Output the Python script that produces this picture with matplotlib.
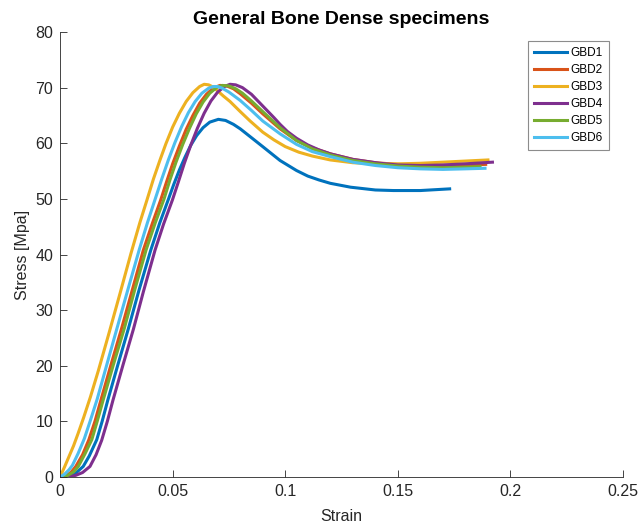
import matplotlib.pyplot as plt

plt.rcParams['font.family'] = ['Liberation Sans', 'DejaVu Sans']

# strain / stress
gbd1_strain = [0, 0.004, 0.007, 0.0103, 0.013, 0.0163, 0.0187, 0.0212, 0.0257, 0.0303, 0.035, 0.0403, 0.0443,
               0.0481, 0.0505, 0.053, 0.0555, 0.058, 0.0607, 0.0635, 0.0665, 0.0703, 0.0735, 0.077, 0.080, 0.085,
               0.0903, 0.0977, 0.105, 0.110, 0.115, 0.120, 0.129, 0.140, 0.148, 0.160, 0.173]
gbd1_stress = [0, 0.2, 0.7, 1.9, 3.8, 6.7, 10.0, 13.8, 20.2, 26.6, 33.5, 40.8, 45.7,
               49.9, 52.6, 55.2, 57.5, 59.6, 61.4, 62.8, 63.8, 64.3, 64.1, 63.4, 62.6, 61.0,
               59.3, 56.9, 55.1, 54.1, 53.4, 52.8, 52.1, 51.6, 51.5, 51.5, 51.8]

gbd2_strain = [0, 0.003, 0.005, 0.007, 0.010, 0.0128, 0.0155, 0.0182, 0.0225, 0.0274, 0.032, 0.037, 0.041,
               0.0447, 0.0475, 0.050, 0.053, 0.056, 0.059, 0.062, 0.065, 0.068, 0.071, 0.074, 0.077, 0.080,
               0.085, 0.090, 0.0977, 0.105, 0.112, 0.120, 0.130, 0.140, 0.150, 0.160, 0.170, 0.180, 0.189]
gbd2_stress = [0, 0.3, 0.9, 1.9, 4.0, 6.7, 10.0, 13.9, 20.0, 26.8, 33.5, 40.8, 45.6,
               49.8, 53.3, 56.3, 59.5, 62.5, 65.0, 67.2, 68.8, 69.9, 70.4, 70.3, 69.8, 68.9,
               67.2, 65.3, 62.6, 60.5, 59.2, 58.1, 57.1, 56.5, 56.2, 56.0, 56.0, 56.1, 56.2]

gbd3_strain = [0, 0.002, 0.004, 0.006, 0.008, 0.0105, 0.0135, 0.017, 0.0217, 0.0265, 0.0315, 0.0355, 0.0386,
               0.0415, 0.0444, 0.047, 0.050, 0.053, 0.056, 0.059, 0.062, 0.064, 0.066, 0.068, 0.070, 0.0725,
               0.0755, 0.080, 0.0844, 0.090, 0.095, 0.100, 0.106, 0.112, 0.120, 0.130, 0.140, 0.150, 0.160,
               0.170, 0.180, 0.190]
gbd3_stress = [0, 1.8, 3.7, 5.6, 7.8, 10.7, 14.4, 19.1, 25.8, 32.8, 40.2, 45.8, 49.8,
               53.6, 57.0, 59.9, 62.9, 65.4, 67.5, 69.1, 70.2, 70.6, 70.5, 70.1, 69.4, 68.5,
               67.5, 65.7, 64.0, 62.0, 60.6, 59.4, 58.4, 57.7, 57.0, 56.5, 56.3, 56.3, 56.4,
               56.6, 56.8, 57.0]

gbd4_strain = [0, 0.004, 0.007, 0.010, 0.0133, 0.016, 0.0185, 0.021, 0.0235, 0.028, 0.0326, 0.037, 0.0422,
               0.046, 0.0499, 0.0525, 0.0552, 0.058, 0.061, 0.064, 0.067, 0.070, 0.073, 0.0755, 0.078, 0.081,
               0.085, 0.090, 0.095, 0.0977, 0.101, 0.105, 0.110, 0.115, 0.120, 0.130, 0.142, 0.150, 0.160,
               0.170, 0.180, 0.192]
gbd4_stress = [0, 0.05, 0.3, 0.8, 1.9, 4.0, 6.6, 10.0, 13.8, 20.2, 26.6, 33.3, 40.8,
               45.5, 49.8, 53.0, 56.4, 59.6, 62.7, 65.4, 67.6, 69.2, 70.2, 70.6, 70.5, 70.0,
               68.8, 66.7, 64.6, 63.4, 62.1, 60.9, 59.7, 58.8, 58.1, 57.1, 56.4, 56.1, 56.0,
               56.1, 56.3, 56.6]

gbd5_strain = [0, 0.003, 0.006, 0.0081, 0.011, 0.0141, 0.0165, 0.0192, 0.0237, 0.0286, 0.033, 0.0382, 0.0422,
               0.0462, 0.0488, 0.0515, 0.0545, 0.0575, 0.0605, 0.0635, 0.0665, 0.0695, 0.072, 0.075, 0.078,
               0.081, 0.085, 0.090, 0.0977, 0.105, 0.112, 0.120, 0.130, 0.140, 0.150, 0.160, 0.170, 0.180, 0.1865]
gbd5_stress = [0, 0.2, 0.9, 1.9, 4.1, 6.7, 10.0, 13.9, 20.2, 26.8, 33.4, 40.8, 45.6,
               50.0, 53.4, 56.6, 59.8, 62.7, 65.3, 67.4, 69.0, 70.0, 70.4, 70.3, 69.8,
               69.0, 67.6, 65.7, 62.8, 60.5, 59.0, 57.9, 56.9, 56.3, 55.9, 55.7, 55.6, 55.7, 55.8]

gbd6_strain = [0, 0.002, 0.004, 0.0055, 0.008, 0.0108, 0.0135, 0.0165, 0.0205, 0.0252, 0.030, 0.0352, 0.0388,
               0.0422, 0.0452, 0.0481, 0.051, 0.054, 0.057, 0.060, 0.063, 0.066, 0.068, 0.070, 0.072, 0.075,
               0.080, 0.085, 0.090, 0.0977, 0.105, 0.112, 0.120, 0.130, 0.140, 0.150, 0.160, 0.170, 0.180, 0.1887]
gbd6_stress = [0, 0.5, 1.3, 2.1, 4.2, 6.9, 10.2, 14.0, 19.8, 26.6, 33.5, 40.9, 45.7,
               49.9, 53.6, 57.0, 60.1, 63.0, 65.5, 67.5, 69.0, 69.9, 70.2, 70.2, 69.9, 69.2,
               67.7, 65.9, 64.0, 61.7, 59.8, 58.5, 57.6, 56.6, 56.0, 55.6, 55.4, 55.3, 55.4, 55.5]

names = ['GBD1', 'GBD2', 'GBD3', 'GBD4', 'GBD5', 'GBD6']
strains = [gbd1_strain, gbd2_strain, gbd3_strain, gbd4_strain, gbd5_strain, gbd6_strain]
stresses = [gbd1_stress, gbd2_stress, gbd3_stress, gbd4_stress, gbd5_stress, gbd6_stress]
colors = ['#0072BD', '#D95319', '#EDB120', '#7E2F8E', '#77AC30', '#4DBEEE']

fig = plt.figure(figsize=(6.42, 5.29), dpi=100)
ax = fig.add_axes([0.0935, 0.0983, 0.877, 0.8412])

for s, p, c, n in zip(strains, stresses, colors, names):
    ax.plot(s, p, color=c, linewidth=2.2, label=n, solid_joinstyle='round')

ax.set_xlim(0, 0.25)
ax.set_ylim(0, 80)
ax.set_xticks([0, 0.05, 0.1, 0.15, 0.2, 0.25])
ax.set_xticklabels(['0', '0.05', '0.1', '0.15', '0.2', '0.25'])
ax.set_yticks(range(0, 81, 10))

axcol = '#262626'
ax.spines['top'].set_visible(False)
ax.spines['right'].set_visible(False)
for sp in ['left', 'bottom']:
    ax.spines[sp].set_color(axcol)
    ax.spines[sp].set_linewidth(0.6)
ax.tick_params(direction='in', length=5, width=0.6, colors=axcol, labelsize=11.5, pad=5)

ax.set_xlabel('Strain', fontsize=11.5, color=axcol, labelpad=7)
ax.set_ylabel('Stress [Mpa]', fontsize=11.5, color=axcol, labelpad=4)
ax.set_title('General Bone Dense specimens', fontsize=14, fontweight='bold', pad=6)

leg = ax.legend(loc='upper right', bbox_to_anchor=(0.985, 0.993), fontsize=8.5,
                handlelength=2.8, handletextpad=0.3, labelspacing=0.42,
                borderpad=0.5, fancybox=False, framealpha=1)
leg.get_frame().set_edgecolor('#8c8c8c')
leg.get_frame().set_linewidth(0.8)

fig.savefig('out.png', dpi=100)
